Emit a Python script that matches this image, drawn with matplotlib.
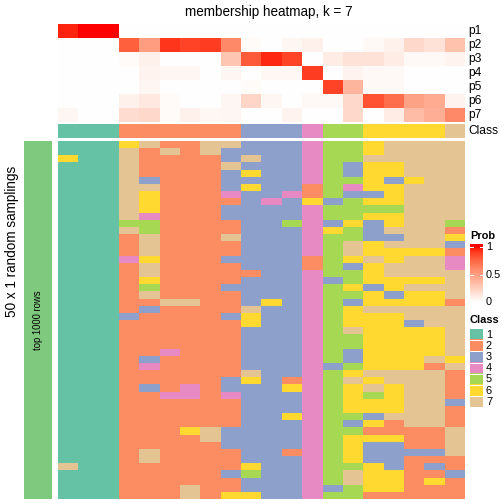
import numpy as np
import matplotlib
matplotlib.use("Agg")
import matplotlib.pyplot as plt
from matplotlib.colors import ListedColormap

# ---------------- data ----------------
prob_labels = ["p1", "p2", "p3", "p4", "p5", "p6", "p7"]
p1 = [0.96, 1.0, 1.0, 0, 0, 0, 0, 0, 0, 0, 0, 0, 0, 0, 0, 0, 0, 0, 0, 0]
p2 = [0, 0, 0, 0.78, 0.5, 0.92, 0.88, 0.9, 0.6, 0.02, 0, 0.05, 0.08, 0, 0, 0.03, 0.08, 0.2, 0.15, 0.32]
p3 = [0, 0, 0, 0.02, 0.08, 0, 0, 0, 0.3, 0.8, 0.95, 0.88, 0, 0.1, 0.15, 0.15, 0.1, 0.03, 0.03, 0.06]
p4 = [0, 0, 0, 0, 0.06, 0.05, 0.05, 0, 0.05, 0, 0.04, 0.04, 0.9, 0, 0.06, 0.03, 0.03, 0, 0, 0]
p5 = [0, 0, 0, 0, 0.05, 0, 0, 0, 0, 0.02, 0, 0, 0, 0.88, 0.38, 0.03, 0.03, 0, 0, 0]
p6 = [0, 0, 0, 0.08, 0.12, 0.02, 0, 0, 0.05, 0.22, 0.05, 0, 0.03, 0.03, 0.2, 0.83, 0.72, 0.48, 0.43, 0.06]
p7 = [0.05, 0, 0, 0.18, 0.2, 0.02, 0.08, 0.04, 0.05, 0, 0, 0.06, 0, 0, 0.2, 0, 0.1, 0.35, 0.42, 0.6]

column_class = [1, 1, 1, 2, 2, 2, 2, 2, 2, 3, 3, 3, 4, 5, 5, 6, 6, 6, 6, 7]

sampling_rows = [
    "11167227733345567777", "11172727333345567777", "61172222373345577777",
    "11172222733345366777", "11172222363345366777", "11173222333345563677",
    "11177222363325466777", "11176222433425336777", "11176222234363566777",
    "11176222333345555777", "11174222333345566777", "11155222233543636775",
    "11175222233346537772", "11127222733345533776", "11127222233345767773",
    "11127222233345766662", "11146222333325676774", "11127222233325367774",
    "11127222223345567777", "11126222233343566667", "11125222333345636777",
    "11127222233345563667", "11122772236345366662", "11123222273345677777",
    "11132222363345666777", "11122222263345666377", "11122222233345766667",
    "11122222233345566667", "11122222233345566667", "11122422233345366667",
    "11123222233345366676", "11124222233343566627", "11122222273345677772",
    "11122222363245767772", "11123242333645676772", "11122442433345656772",
    "11122222233345666773", "11122222233345666772", "11122222233645537772",
    "11122222233345362772", "11122267333345522227", "11122227333345666227",
    "11122222333345633227", "11127222233245633337", "11127222233345633222",
    "71122222263345563232", "11122222353345766223", "11122222233345766262",
    "11122272233343566222", "11122272663345522222",
]

class_levels = ["1", "2", "3", "4", "5", "6", "7"]
class_colors = ["#66C2A5", "#FC8D62", "#8DA0CB", "#E78AC3", "#A6D854", "#FFD92F", "#E5C494"]
prob_ticks = [0, 0.5, 1]
title = "membership heatmap, k = 7"

# ---------------- colour ramp white -> red in LAB ----------------
def srgb_to_lab(rgb):
    rgb = np.asarray(rgb, float)
    lin = np.where(rgb <= 0.04045, rgb / 12.92, ((rgb + 0.055) / 1.055) ** 2.4)
    M = np.array([[0.4124, 0.3576, 0.1805], [0.2126, 0.7152, 0.0722], [0.0193, 0.1192, 0.9505]])
    xyz = M @ lin
    wp = np.array([0.95047, 1.0, 1.08883])
    t = xyz / wp
    f = np.where(t > (6 / 29) ** 3, np.cbrt(t), t / (3 * (6 / 29) ** 2) + 4 / 29)
    return np.array([116 * f[1] - 16, 500 * (f[0] - f[1]), 200 * (f[1] - f[2])])

def lab_to_srgb(lab):
    L, a, b = lab
    fy = (L + 16) / 116
    fx = fy + a / 500
    fz = fy - b / 200
    f = np.array([fx, fy, fz])
    t = np.where(f > 6 / 29, f ** 3, 3 * (6 / 29) ** 2 * (f - 4 / 29))
    wp = np.array([0.95047, 1.0, 1.08883])
    xyz = t * wp
    Minv = np.array([[3.2406, -1.5372, -0.4986], [-0.9689, 1.8758, 0.0415], [0.0557, -0.2040, 1.0570]])
    lin = Minv @ xyz
    lin = np.clip(lin, 0, 1)
    rgb = np.where(lin <= 0.0031308, 12.92 * lin, 1.055 * lin ** (1 / 2.4) - 0.055)
    return np.clip(rgb, 0, 1)

lab_w = srgb_to_lab([1, 1, 1])
lab_r = srgb_to_lab([1, 0, 0])
ramp = [lab_to_srgb(lab_w + (lab_r - lab_w) * t) for t in np.linspace(0, 1, 256)]
prob_cmap = ListedColormap(ramp)
class_cmap = ListedColormap(class_colors)

# ---------------- figure ----------------
W = H = 504
fig = plt.figure(figsize=(7, 7), dpi=72)
plt.rcParams["font.family"] = ["Liberation Sans", "DejaVu Sans"]

def ax_at(x0, y0, x1, y1):
    ax = fig.add_axes([x0 / W, 1 - y1 / H, (x1 - x0) / W, (y1 - y0) / H])
    ax.set_axis_off()
    return ax

def ftext(x, y, s, **kw):
    fig.text(x / W, 1 - y / H, s, **kw)

hx0, hx1 = 58, 464

# probability annotation
P = np.array([p1, p2, p3, p4, p5, p6, p7])
ax_p = ax_at(hx0, 24, hx1, 122)
ax_p.imshow(P, cmap=prob_cmap, vmin=0, vmax=1, aspect="auto", interpolation="nearest")
for i, lab in enumerate(prob_labels):
    ftext(468, 24 + 14 * i + 7, lab, fontsize=12, va="center", ha="left")

# class annotation
ax_c = ax_at(hx0, 124, hx1, 137.7)
ax_c.imshow(np.array([column_class]) - 1, cmap=class_cmap, vmin=-0.5, vmax=6.5,
            aspect="auto", interpolation="nearest")
ftext(468, 131, "Class", fontsize=12, va="center", ha="left")

# main heatmap
M = np.array([[int(ch) for ch in r] for r in sampling_rows])
ax_m = ax_at(hx0, 141, hx1, 499)
ax_m.imshow(M - 1, cmap=class_cmap, vmin=-0.5, vmax=6.5, aspect="auto", interpolation="nearest")

# left split bar
ax_l = ax_at(24, 141, 52, 499)
ax_l.imshow([[0]], cmap=ListedColormap(["#7FC97F"]), aspect="auto")
ftext(38, 320, "top 1000 rows", fontsize=9.5, rotation=90, ha="center", va="center")
ftext(12, 241, "50 x 1 random samplings", fontsize=13.5, rotation=90, ha="center", va="center")

# title
ftext(269, 12, title, fontsize=13.5, ha="center", va="center")

# Prob legend
ftext(470, 236, "Prob", fontsize=11, fontweight="bold", ha="left", va="center")
ax_pl = ax_at(470, 244, 483, 305)
ext = 3 / 55
grad = np.linspace(1 + ext, -ext, 200).reshape(-1, 1)
ax_pl.imshow(np.clip(grad, 0, 1), cmap=prob_cmap, vmin=0, vmax=1, aspect="auto",
             extent=[0, 1, -ext, 1 + ext])
ax_pl.set_xlim(0, 1)
ax_pl.set_ylim(-ext, 1 + ext)
for t in prob_ticks:
    ax_pl.plot([0, 0.2], [t, t], color="white", lw=1)
    ax_pl.plot([0.8, 1], [t, t], color="white", lw=1)
    lab = "0.5" if t == 0.5 else str(int(t))
    ftext(486, 302 - 55 * t, lab, fontsize=11, ha="left", va="center")

# Class legend
ftext(470, 320, "Class", fontsize=11, fontweight="bold", ha="left", va="center")
ax_cl = ax_at(470, 329, 483, 407.5)
ax_cl.imshow(np.arange(7).reshape(-1, 1), cmap=class_cmap, vmin=-0.5, vmax=6.5,
             aspect="auto", interpolation="nearest")
for k in range(1, 7):
    ax_cl.axhline(k - 0.5, color="white", lw=1)
for k, lab in enumerate(class_levels):
    ftext(486, 329 + 11.2 * k + 5.6, lab, fontsize=11, ha="left", va="center")

fig.savefig("out.png", dpi=72)
